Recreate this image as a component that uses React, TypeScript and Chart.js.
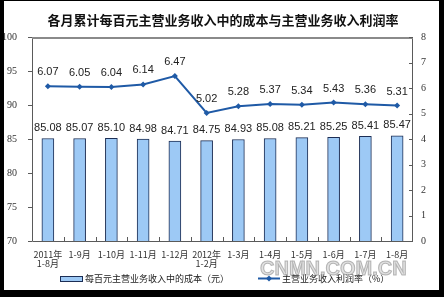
import React, { useEffect, useRef } from "react";
import { Chart, registerables } from "chart.js";

Chart.register(...registerables);

const TITLE = "各月累计每百元主营业务收入中的成本与主营业务收入利润率";
const categories: (string | string[])[] = [
  ["2011年", "1-8月"], "1-9月", "1-10月", "1-11月", "1-12月",
  ["2012年", "1-2月"], "1-3月", "1-4月", "1-5月", "1-6月", "1-7月", "1-8月",
];
const costPerHundred = [85.08, 85.07, 85.10, 84.98, 84.71, 84.75, 84.93, 85.08, 85.21, 85.25, 85.41, 85.47];
const profitRate = [6.07, 6.05, 6.04, 6.14, 6.47, 5.02, 5.28, 5.37, 5.34, 5.43, 5.36, 5.31];
const SERIES_COST = "每百元主营业务收入中的成本（元）";
const SERIES_RATE = "主营业务收入利润率（%）";
const leftAxis = { min: 70, max: 100, step: 5 };
const rightAxis = { min: 0, max: 8, step: 1 };
const WATERMARK = "CNMN.COM.CN";

const BAR_FILL = "#9dc9f5";
const BAR_EDGE = "#1c2e55";
const LINE_COLOR = "#1f5aa6";
const CJK = "'Noto Sans CJK SC', sans-serif";

const decor = {
  id: "decor",
  afterDraw(chart: any) {
    const { ctx, chartArea: a, scales } = chart;
    ctx.save();
    // frame
    ctx.strokeStyle = "#5a5a5a";
    ctx.lineWidth = 1;
    ctx.beginPath();
    ctx.moveTo(a.left + 0.5, a.top);
    ctx.lineTo(a.left + 0.5, a.bottom + 0.5);
    ctx.lineTo(a.right - 0.5, a.bottom + 0.5);
    ctx.lineTo(a.right - 0.5, a.top);
    ctx.stroke();
    ctx.strokeStyle = "#8a8a8a";
    ctx.lineWidth = 2;
    ctx.beginPath();
    ctx.moveTo(a.left, a.top + 1);
    ctx.lineTo(a.right, a.top + 1);
    ctx.stroke();

    // tick marks
    ctx.strokeStyle = "#5a5a5a";
    ctx.lineWidth = 1;
    ctx.beginPath();
    const y = scales.y;
    for (let v = leftAxis.min; v <= leftAxis.max; v += leftAxis.step) {
      const p = Math.round(y.getPixelForValue(v)) + 0.5;
      ctx.moveTo(a.left - 4, p);
      ctx.lineTo(a.left, p);
    }
    const y1 = scales.y1;
    for (let v = rightAxis.min; v <= rightAxis.max; v += rightAxis.step) {
      const p = Math.round(y1.getPixelForValue(v)) + 0.5;
      ctx.moveTo(a.right - 4, p);
      ctx.lineTo(a.right, p);
    }
    const x = scales.x;
    for (let i = 0; i < categories.length - 1; i++) {
      const p = Math.round((x.getPixelForValue(i) + x.getPixelForValue(i + 1)) / 2) + 0.5;
      ctx.moveTo(p, a.bottom - 4);
      ctx.lineTo(p, a.bottom);
    }
    ctx.stroke();

    // data labels
    ctx.fillStyle = "#222";
    ctx.font = "11px 'Liberation Sans', Arial, sans-serif";
    ctx.textAlign = "center";
    ctx.textBaseline = "middle";
    const mBar = chart.getDatasetMeta(0);
    mBar.data.forEach((el: any, i: number) => {
      ctx.fillText(costPerHundred[i].toFixed(2), el.x, el.y - 10.5);
    });
    const mLine = chart.getDatasetMeta(1);
    mLine.data.forEach((el: any, i: number) => {
      ctx.fillText(profitRate[i].toFixed(2), el.x, el.y - 14);
    });

    // title
    ctx.fillStyle = "#111";
    ctx.font = `bold 13px ${CJK}`;
    ctx.fillText(TITLE, 219, 19);

    // legend
    const ly = 277.5;
    ctx.fillStyle = BAR_FILL;
    ctx.fillRect(56, 275, 23, 5);
    ctx.strokeStyle = BAR_EDGE;
    ctx.lineWidth = 1;
    ctx.strokeRect(56.5, 275.5, 22, 5);
    ctx.fillStyle = "#222";
    ctx.font = `9px ${CJK}`;
    ctx.textAlign = "left";
    ctx.fillText(SERIES_COST, 81, ly);

    ctx.strokeStyle = LINE_COLOR;
    ctx.lineWidth = 2;
    ctx.beginPath();
    ctx.moveTo(254, ly);
    ctx.lineTo(276, ly);
    ctx.stroke();
    ctx.fillStyle = LINE_COLOR;
    ctx.beginPath();
    ctx.moveTo(265, ly - 3);
    ctx.lineTo(268, ly);
    ctx.lineTo(265, ly + 3);
    ctx.lineTo(262, ly);
    ctx.closePath();
    ctx.fill();
    ctx.fillStyle = "#222";
    ctx.fillText(SERIES_RATE, 278, ly);

    // watermark
    ctx.font = "bold 20px 'Liberation Sans', Arial, sans-serif";
    ctx.fillStyle = "rgba(200,200,200,0.55)";
    ctx.strokeStyle = "rgba(140,140,140,0.6)";
    ctx.lineWidth = 1;
    ctx.fillText(WATERMARK, 256, 268);
    ctx.strokeText(WATERMARK, 256, 268);
    ctx.restore();
  },
};

export default function App() {
  const ref = useRef<HTMLCanvasElement>(null);
  useEffect(() => {
    if (!ref.current) return;
    const chart = new Chart(ref.current, {
      type: "bar",
      data: {
        labels: categories as any,
        datasets: [
          {
            type: "bar",
            label: SERIES_COST,
            data: costPerHundred,
            backgroundColor: BAR_FILL,
            borderColor: BAR_EDGE,
            borderWidth: 1,
            barThickness: 12,
            yAxisID: "y",
            order: 1,
          },
          {
            type: "line",
            label: SERIES_RATE,
            data: profitRate,
            borderColor: LINE_COLOR,
            backgroundColor: LINE_COLOR,
            borderWidth: 2,
            pointStyle: "rectRot",
            pointRadius: 3,
            pointBorderWidth: 0,
            tension: 0,
            yAxisID: "y1",
            order: 0,
          },
        ] as any,
      },
      options: {
        responsive: false,
        animation: false,
        layout: { padding: { top: 36, left: 0, right: 0, bottom: 0 } },
        plugins: {
          legend: { display: false },
          title: { display: false },
          tooltip: { enabled: false },
        },
        scales: {
          x: {
            offset: true,
            grid: { display: false, drawTicks: false },
            border: { display: false },
            ticks: {
              autoSkip: false,
              maxRotation: 0,
              minRotation: 0,
              padding: 9,
              color: "#333",
              font: { family: CJK, size: 9, lineHeight: 1.0 },
            },
            afterFit: (s: any) => { s.height = 49; },
          },
          y: {
            position: "left",
            min: leftAxis.min,
            max: leftAxis.max,
            grid: { display: false, drawTicks: false },
            border: { display: false },
            ticks: {
              stepSize: leftAxis.step,
              padding: 15,
              color: "#333",
              font: { family: "'Liberation Serif', serif", size: 10 },
            },
            afterFit: (s: any) => { s.width = 28; },
          },
          y1: {
            position: "right",
            min: rightAxis.min,
            max: rightAxis.max,
            grid: { display: false, drawTicks: false },
            border: { display: false },
            ticks: {
              stepSize: rightAxis.step,
              padding: 8,
              color: "#333",
              font: { family: "'Liberation Serif', serif", size: 10 },
            },
            afterFit: (s: any) => { s.width = 26; },
          },
        },
      } as any,
      plugins: [decor],
    });
    return () => chart.destroy();
  }, []);

  return (
    <div style={{ position: "fixed", left: 0, top: 0, width: 444, height: 297, background: "#000" }}>
      <div style={{ position: "absolute", left: 4, top: 1, width: 435, height: 289, background: "#fff" }}>
        <canvas ref={ref} width={435} height={289} style={{ display: "block", width: 435, height: 289 }} />
      </div>
    </div>
  );
}
